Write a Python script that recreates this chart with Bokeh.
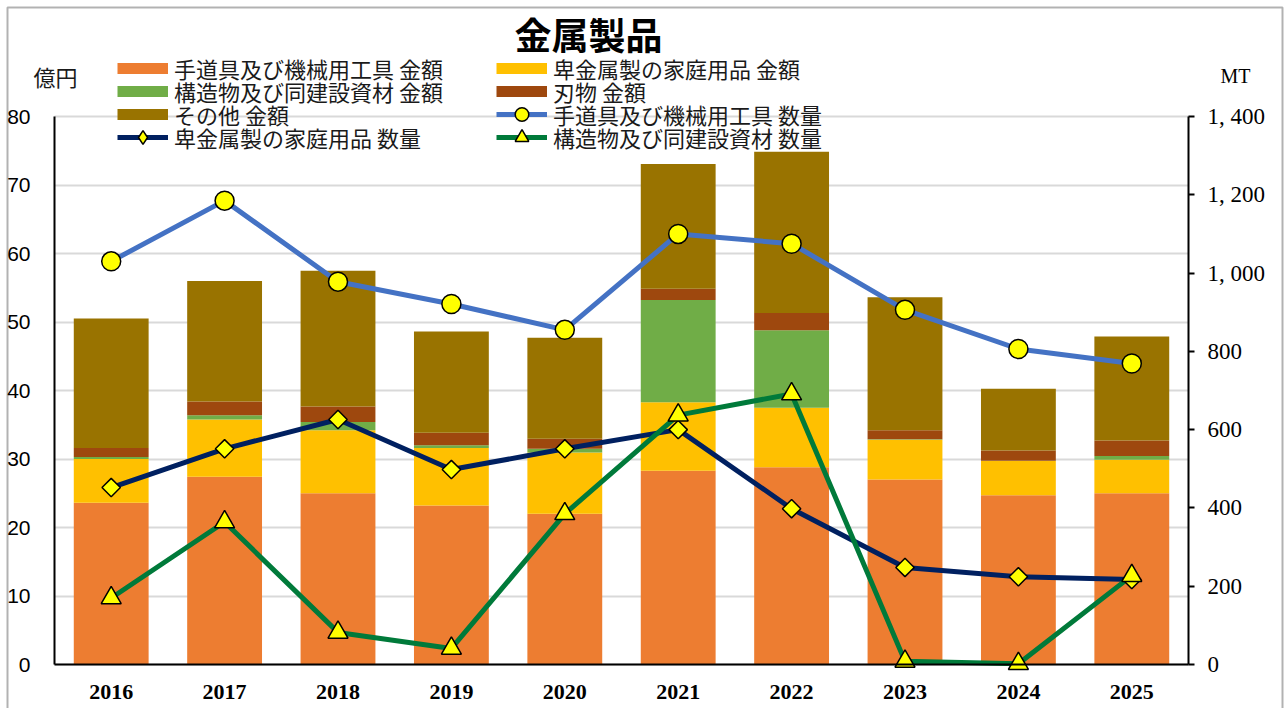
import math
from bokeh.plotting import figure
from bokeh.models import (Range1d, LinearAxis, Label, Legend, LegendItem, FixedTicker,
                          ColumnDataSource, BoxAnnotation)
from bokeh.embed import file_html
from bokeh.resources import INLINE

years = ["2016", "2017", "2018", "2019", "2020", "2021", "2022", "2023", "2024", "2025"]

# 金額 (億円)
tools_amt = [23.6, 27.4, 25.0, 23.2, 22.0, 28.3, 28.8, 27.0, 24.7, 25.0]
base_metal_amt = [6.4, 8.35, 9.2, 8.4, 8.95, 10.0, 8.7, 5.8, 5.0, 4.9]
struct_amt = [0.3, 0.65, 1.2, 0.4, 0.55, 14.9, 11.3, 0.1, 0.05, 0.55]
cutlery_amt = [1.3, 2.0, 2.25, 1.85, 1.45, 1.65, 2.5, 1.3, 1.5, 2.25]
other_amt = [18.9, 17.6, 19.85, 14.75, 14.75, 18.2, 23.55, 19.4, 9.0, 15.2]

# 数量 (MT)
tools_qty = [1030, 1185, 978, 921, 855, 1100, 1075, 906, 806, 769]
base_metal_qty = [452, 551, 626, 498, 551, 600, 398, 248, 224, 217]
struct_qty = [170, 364, 82, 41, 385, 637, 691, 8, 2, 227]

left_ticks = [0, 10, 20, 30, 40, 50, 60, 70, 80]
right_ticks = [0, 200, 400, 600, 800, 1000, 1200, 1400]
right_tick_labels = ["0", "200", "400", "600", "800", "1, 000", "1, 200", "1, 400"]

bar_names = ["手道具及び機械用工具 金額", "卑金属製の家庭用品 金額", "構造物及び同建設資材 金額",
             "刃物 金額", "その他 金額"]
bar_colors = ["#ED7D31", "#FFC000", "#70AD47", "#9E480E", "#997300"]
line_names = ["手道具及び機械用工具 数量", "卑金属製の家庭用品 数量", "構造物及び同建設資材 数量"]
line_colors = ["#4472C4", "#002060", "#007A3A"]

JP = "Noto Sans CJK JP"
SERIF = "Liberation Serif"
SANS = "Liberation Sans"

# ---- layout (pixels of the canvas) ----
W, H = 1284, 708
AX_L, AX_R = 54, 1188          # left / right value axes
AX_B, AX_T = 664, 116          # value 0 / value max
n = len(years)
left_max, right_max = left_ticks[-1], right_ticks[-1]
xpx = (AX_R - AX_L) / n
ypx = (AX_B - AX_T) / left_max
x_start, x_end = -AX_L / xpx, (W - AX_L) / xpx
y_start, y_end = -(H - AX_B) / ypx, AX_B / ypx
rk = right_max / left_max

xs = [i + 0.5 for i in range(n)]
src = ColumnDataSource(dict(x=xs, a=tools_amt, b=base_metal_amt, c=struct_amt,
                            d=cutlery_amt, e=other_amt))

p = figure(x_range=Range1d(x_start, x_end), y_range=Range1d(y_start, y_end),
           width=W, height=H, output_backend="svg", toolbar_location=None,
           min_border=0, min_border_left=0, min_border_right=0, min_border_top=0,
           min_border_bottom=0, background_fill_color="white", border_fill_color="white")
p.outline_line_color = None
p.xgrid.grid_line_color = None
grid = p.ygrid[0]
grid.grid_line_color = "#D9D9D9"
grid.grid_line_width = 2
grid.ticker = FixedTicker(ticks=left_ticks)
grid.bounds = (0, left_max)
use_mask = True
if "cross_bounds" in grid.properties():
    grid.cross_bounds = (0, n)
    use_mask = False
if use_mask:
    for kw in (dict(right=0), dict(left=n)):
        p.add_layout(BoxAnnotation(fill_color="white", fill_alpha=1, line_color=None,
                                   level="underlay", **kw))

# left axis
la = p.yaxis[0]
la.fixed_location = 0
la.bounds = (0, left_max)
la.ticker = FixedTicker(ticks=left_ticks)
la.axis_line_color = "black"
la.axis_line_width = 2
la.major_tick_line_color = None
la.minor_tick_line_color = None
la.major_label_text_font = SANS
la.major_label_text_font_size = "21px"
la.major_label_text_color = "black"
la.major_label_standoff = 18

# bottom axis
xa = p.xaxis[0]
xa.fixed_location = 0
xa.bounds = (0, n)
xa.ticker = FixedTicker(ticks=xs)
xa.major_label_overrides = {x: y for x, y in zip(xs, years)}
xa.axis_line_color = "black"
xa.axis_line_width = 2
xa.major_tick_line_color = None
xa.minor_tick_line_color = None
xa.major_label_text_font = SERIF
xa.major_label_text_font_size = "22px"
xa.major_label_text_font_style = "bold"
xa.major_label_text_color = "black"
xa.major_label_standoff = 14

# right axis
p.extra_y_ranges = {"right": Range1d(y_start * rk, y_end * rk)}
ra = LinearAxis(y_range_name="right", fixed_location=n, bounds=(0, right_max),
                ticker=FixedTicker(ticks=right_ticks))
ra.major_label_overrides = {t: s for t, s in zip(right_ticks, right_tick_labels)}
ra.axis_line_color = "black"
ra.axis_line_width = 2
ra.major_tick_line_color = "black"
ra.major_tick_line_width = 2
ra.major_tick_out = 6
ra.major_tick_in = 0
ra.minor_tick_line_color = None
ra.major_label_text_font = SERIF
ra.major_label_text_font_size = "23px"
ra.major_label_text_color = "black"
ra.major_label_standoff = 13
p.add_layout(ra, "right")

# stacked bars
p.vbar_stack(["a", "b", "c", "d", "e"], x="x", width=0.66, source=src,
             fill_color=bar_colors, line_color=None)

# lines with markers
qty_series = [tools_qty, base_metal_qty, struct_qty]
markers = [dict(marker="circle", size=19, angle=0),
           dict(marker="square", size=13, angle=math.pi / 4),
           dict(marker="triangle", size=20, angle=0)]
line_rends = []
for vals, col in zip(qty_series, line_colors):
    line_rends.append(p.line(xs, vals, y_range_name="right", line_color=col, line_width=5))
mark_rends = []
for vals, mk in zip(qty_series, markers):
    mark_rends.append(p.scatter(xs, vals, y_range_name="right", fill_color="#FFFF00",
                                line_color="black", line_width=1.5, **mk))

# legend-only swatches (a single NaN point, never drawn on the chart)
nan = float("nan")
dummies = [p.line(x=[xs[0]], y=[nan], line_color=c, line_width=11) for c in bar_colors]
leg_marks = [p.scatter(x=[xs[0]], y=[nan], marker=m, fill_color="#FFFF00",
                       line_color="black", line_width=1.5)
             for m in ("circle", "diamond", "triangle")]

ROW_H = 34
row_centers = [67.5, 90.5, 113.5, 136.5]
col_x = [117, 496]

def add_entry(label, renderers, col, row):
    vy = H - (row_centers[row] + ROW_H / 2)
    lg = Legend(items=[LegendItem(label=label, renderers=renderers)],
                location=(col_x[col], vy), orientation="vertical",
                border_line_color=None, background_fill_alpha=0, padding=0, margin=0,
                spacing=0, glyph_width=51, glyph_height=ROW_H, label_height=ROW_H,
                label_standoff=6, label_text_font=JP, label_text_font_size="22px",
                label_text_color="#1a1a1a", label_text_baseline="middle")
    p.add_layout(lg)

add_entry(bar_names[0], [dummies[0]], 0, 0)
add_entry(bar_names[1], [dummies[1]], 1, 0)
add_entry(bar_names[2], [dummies[2]], 0, 1)
add_entry(bar_names[3], [dummies[3]], 1, 1)
add_entry(bar_names[4], [dummies[4]], 0, 2)
add_entry(line_names[0], [line_rends[0], leg_marks[0]], 1, 2)
add_entry(line_names[1], [line_rends[1], leg_marks[1]], 0, 3)
add_entry(line_names[2], [line_rends[2], leg_marks[2]], 1, 3)

p.add_layout(Label(x=588, y=H - 33, x_units="screen", y_units="screen", text="金属製品",
                   text_font=JP, text_font_size="37px", text_font_style="bold",
                   text_align="center", text_baseline="middle", text_color="black"))
p.add_layout(Label(x=33, y=H - 75, x_units="screen", y_units="screen", text="億円",
                   text_font=JP, text_font_size="22px", text_color="#1a1a1a",
                   text_align="left", text_baseline="middle"))
p.add_layout(Label(x=1220, y=H - 75, x_units="screen", y_units="screen", text="MT",
                   text_font=SERIF, text_font_size="20px", text_color="black",
                   text_align="left", text_baseline="middle"))

# chart border
p.add_layout(BoxAnnotation(left=(7 - AX_L) / xpx, right=(1282 - AX_L) / xpx,
                           top=(AX_B - 7) / ypx, bottom=y_start - 5,
                           fill_color=None, fill_alpha=0, line_color="black", line_width=2))

open("out.html", "w").write(file_html(p, INLINE))
